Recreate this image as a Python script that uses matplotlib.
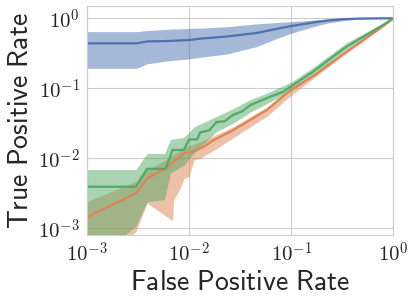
import numpy as np
import matplotlib
matplotlib.use("Agg")
import matplotlib.pyplot as plt
import seaborn as sns

sns.set_style("whitegrid")
plt.rcParams["mathtext.fontset"] = "cm"

blue_fpr = [-3, -2.51, -2.41, -2.22, -2.0, -1.89, -1.63, -1.34, -1.14, -1.0,
            -0.785, -0.65, -0.49, -0.33, -0.165, 0]
blue_mean = [-0.357, -0.357, -0.33, -0.325, -0.31, -0.29, -0.26, -0.21, -0.15,
             -0.11, -0.06, -0.032, -0.012, -0.004, -0.001, 0]
blue_hi = [-0.19, -0.19, -0.175, -0.157, -0.145, -0.14, -0.12, -0.08, -0.06,
           -0.048, -0.025, -0.01, -0.003, 0, 0, 0]
blue_lo = [-0.714, -0.714, -0.65, -0.61, -0.58, -0.557, -0.51, -0.405, -0.286,
           -0.214, -0.12, -0.07, -0.033, -0.01, -0.002, 0]

orange_fpr = [-3, -2.52, -2.41, -2.23, -2.05, -1.95, -1.85, -1.76, -1.57,
              -1.24, -1.0, -0.785, -0.46, -0.13, 0]
orange_mean = [-2.84, -2.50, -2.29, -2.14, -1.93, -1.90, -1.83, -1.74, -1.60,
               -1.31, -1.02, -0.825, -0.48, -0.143, 0]
orange_hi = [-2.62, -2.33, -2.17, -2.02, -1.84, -1.80, -1.74, -1.68, -1.55,
             -1.27, -0.99, -0.80, -0.46, -0.135, 0]

orange_lo_fpr = [-3, -2.52, -2.41, -2.16, -2.15, -2.08, -2.05, -2.0, -1.95,
                 -1.89, -1.73, -1.57, -1.40, -1.24, -1.0, -0.785, -0.46, -0.13, 0]
orange_lo = [-3.6, -3.05, -2.64, -2.89, -2.60, -2.41, -2.29, -2.26, -2.02,
             -2.0, -1.86, -1.71, -1.55, -1.40, -1.10, -0.86, -0.50, -0.15, 0]

green_fpr = [-3, -2.52, -2.41, -2.23, -2.16, -2.05, -2.0, -1.92, -1.89, -1.80,
             -1.73, -1.65, -1.57, -1.48, -1.40, -1.24, -1.08, -1.0, -0.785,
             -0.46, -0.13, 0]
green_mean = [-2.406, -2.406, -2.15, -2.15, -1.88, -1.88, -1.73, -1.73, -1.63,
              -1.60, -1.48, -1.47, -1.38, -1.33, -1.24, -1.14, -1.05, -0.97,
              -0.76, -0.405, -0.12, 0]

green_band_fpr = [-3, -2.52, -2.41, -2.24, -2.18, -2.05, -1.95, -1.73, -1.57,
                  -1.40, -1.24, -1.0, -0.785, -0.46, -0.13, 0]
green_hi = [-2.16, -2.16, -1.93, -1.93, -1.73, -1.70, -1.55, -1.40, -1.29,
            -1.16, -1.07, -0.91, -0.70, -0.35, -0.09, 0]
green_lo = [-4.0, -2.97, -2.62, -2.59, -2.21, -2.10, -1.92, -1.62, -1.50,
            -1.34, -1.22, -1.04, -0.82, -0.45, -0.14, 0]
green_lo_left_fpr = [-3, -2.7, -2.63, -2.52]
green_lo_left = [-4.0, -3.6, -3.1, -2.97]

ticks = [1e-3, 1e-2, 1e-1, 1]
tick_labels = [r"$10^{-3}$", r"$10^{-2}$", r"$10^{-1}$", r"$10^{0}$"]

colors = sns.color_palette("deep")
c_blue, c_orange, c_green = colors[0], colors[1], colors[2]


def p(v):
    return 10.0 ** np.asarray(v)


fig = plt.figure(figsize=(4.15, 3.01), dpi=100)
ax = fig.add_axes([0.209, 0.219, 0.739, 0.762])

# bands
ax.fill_between(p(blue_fpr), p(blue_lo), p(blue_hi), color=c_blue,
                alpha=0.5, lw=0)

o_x = np.union1d(orange_fpr, orange_lo_fpr)
ax.fill_between(p(o_x), p(np.interp(o_x, orange_lo_fpr, orange_lo)),
                p(np.interp(o_x, orange_fpr, orange_hi)), color=c_orange,
                alpha=0.5, lw=0)

g_x = np.union1d(green_band_fpr, green_lo_left_fpr)
g_lo_x = green_lo_left_fpr + green_band_fpr[1:]
g_lo_y = green_lo_left + green_lo[1:]
ax.fill_between(p(g_x), p(np.interp(g_x, g_lo_x, g_lo_y)),
                p(np.interp(g_x, green_band_fpr, green_hi)), color=c_green,
                alpha=0.5, lw=0)

# mean curves
ax.plot(p(blue_fpr), p(blue_mean), color=c_blue, lw=1.6)
ax.plot(p(orange_fpr), p(orange_mean), color=c_orange, lw=1.6)
ax.plot(p(green_fpr), p(green_mean), color=c_green, lw=1.6)

ax.set_xscale("log")
ax.set_yscale("log")
ax.set_xlim(1e-3, 1)
ax.set_ylim(10 ** -3.096, 10 ** 0.18)
ax.set_xticks(ticks, tick_labels)
ax.set_yticks(ticks, tick_labels)
ax.minorticks_off()
ax.tick_params(labelsize=15, pad=5, length=0, labelcolor="#262626")
for s in ax.spines.values():
    s.set_color("#cccccc")

ax.set_xlabel(r"$\mathsf{False\ Positive\ Rate}$", fontsize=20, labelpad=1,
              color="#262626")
ax.set_ylabel(r"$\mathsf{True\ Positive\ Rate}$", fontsize=20, labelpad=3,
              color="#262626")

fig.savefig("out.png", dpi=100)
